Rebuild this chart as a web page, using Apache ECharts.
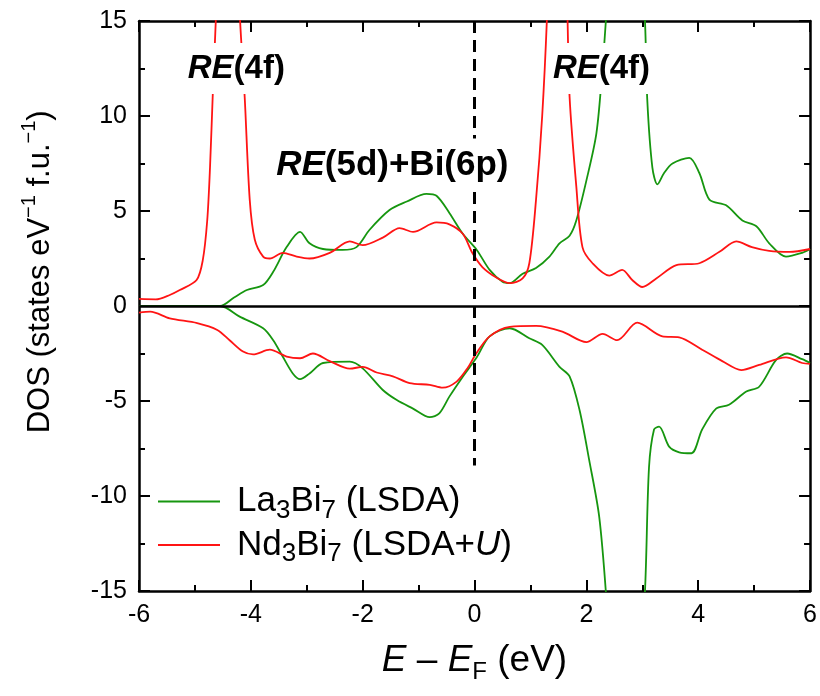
<!DOCTYPE html>
<html><head><meta charset="utf-8">
<script src="https://cdn.jsdelivr.net/npm/echarts@6/dist/echarts.min.js"></script>
<style>html,body{margin:0;padding:0;background:#fff}#c{width:820px;height:696px}</style>
</head><body><div id="c"></div>
<script>
// ---- data ----
const xTickValues = [-6, -4, -2, 0, 2, 4, 6];
const yTickValues = [-15, -10, -5, 0, 5, 10, 15];

// La3Bi7 (LSDA), spin up
const laUpE   = [-6.0,-4.55,-4.3,-4.07,-3.78,-3.6,-3.36,-3.12,-2.95,-2.71,-2.36,-2.11,-1.88,-1.52,-1.21,-0.86,-0.68,-0.45,-0.21,0.04,0.27,0.5,0.63,0.86,1.1,1.34,1.52,1.7,1.82,2.0,2.18,2.29,2.36,2.7,3.04,3.09,3.18,3.27,3.39,3.54,3.84,4.02,4.2,4.5,4.79,5.04,5.27,5.57,5.86,6.0];
const laUpDOS = [0,0,0.45,0.84,1.1,1.8,3.1,3.9,3.3,3.0,2.95,3.1,4.0,5.05,5.5,5.9,5.8,4.9,3.8,2.95,1.9,1.27,1.2,1.7,2.0,2.6,3.3,3.7,4.5,6.6,9.1,12.6,15.5,30,15.5,10.8,7.3,6.4,7.0,7.5,7.8,7.0,5.6,5.3,4.5,4.2,3.3,2.6,2.8,3.0];
// La3Bi7 (LSDA), spin down
const laDnE   = [-6.0,-4.55,-4.2,-3.78,-3.6,-3.43,-3.25,-3.12,-2.95,-2.71,-2.23,-2.0,-1.64,-1.39,-1.1,-0.8,-0.63,-0.45,-0.21,0.04,0.27,0.63,0.98,1.21,1.52,1.7,1.88,2.05,2.23,2.36,2.7,3.04,3.12,3.21,3.3,3.48,3.66,3.88,4.07,4.32,4.55,4.86,5.09,5.39,5.59,5.86,6.0];
const laDnDOS = [0,0,-0.56,-1.17,-1.8,-2.66,-3.55,-3.85,-3.55,-3.0,-2.93,-3.28,-4.42,-4.95,-5.4,-5.85,-5.65,-4.77,-3.72,-2.7,-1.6,-1.17,-1.7,-2.05,-3.2,-3.7,-5.5,-8.1,-11.1,-15.5,-30,-15.5,-8.5,-6.5,-6.35,-7.4,-7.7,-7.75,-6.5,-5.4,-5.2,-4.5,-4.25,-2.85,-2.5,-2.8,-3.0];
// Nd3Bi7 (LSDA+U), spin up
const ndUpE   = [-6.0,-5.7,-5.45,-5.27,-4.97,-4.86,-4.78,-4.73,-4.68,-4.62,-4.4,-4.2,-4.11,-4.02,-3.93,-3.78,-3.66,-3.43,-3.18,-2.95,-2.59,-2.23,-2.0,-1.64,-1.34,-1.1,-0.68,-0.45,-0.21,-0.04,0.14,0.39,0.63,0.86,0.98,1.1,1.21,1.3,1.5,1.66,1.7,1.82,1.93,2.11,2.41,2.64,2.82,3.0,3.25,3.61,4.02,4.38,4.68,4.96,5.27,5.63,6.0];
const ndUpDOS = [0.37,0.35,0.58,0.84,1.37,2.4,4.5,7.3,11.2,15.5,32,15.5,11,5.6,3.5,2.6,2.5,2.8,2.6,2.5,2.8,3.4,3.2,3.6,4.1,3.9,4.4,4.3,3.8,2.8,2.05,1.5,1.2,1.45,2.25,5.6,10,15.5,32,15.5,11,6.3,3.1,2.25,1.6,1.9,1.37,1.0,1.45,2.15,2.25,2.85,3.4,3.1,2.9,2.85,3.0];
// Nd3Bi7 (LSDA+U), spin down
const ndDnE   = [-6.0,-5.8,-5.45,-4.96,-4.6,-4.38,-4.14,-3.96,-3.66,-3.36,-3.12,-2.89,-2.59,-2.23,-2.0,-1.75,-1.46,-1.16,-0.8,-0.57,-0.32,-0.12,0.03,0.27,0.63,1.1,1.57,2.0,2.29,2.55,2.91,3.36,3.66,4.07,4.43,4.77,5.09,5.57,5.86,6.0];
const ndDnDOS = [-0.35,-0.3,-0.65,-0.9,-1.26,-1.8,-2.4,-2.55,-2.3,-2.66,-2.75,-2.5,-2.9,-3.3,-3.2,-3.5,-3.7,-4.06,-4.15,-4.3,-3.98,-3.25,-2.5,-1.6,-1.1,-1.05,-1.35,-1.9,-1.47,-1.8,-0.88,-1.6,-1.65,-2.3,-2.9,-3.37,-3.1,-2.7,-3.0,-3.05];

const seriesNames = ['La3Bi7 (LSDA)', 'Nd3Bi7 (LSDA+U)'];
// annotation anchors in data coordinates
const annotE   = [-4.26, 2.27, -1.47];
const annotDOS = [12.5, 12.5, 7.42];
const annotText = ['{it|RE}{b|(4f)}', '{it|RE}{b|(4f)}', '{it2|RE}{b2|(5d)+Bi(6p)}'];

// ---- chart ----
const FONT = '"Liberation Sans", Arial, Helvetica, sans-serif';
const GREEN = '#16960f';
const RED = '#ff1414';
const pairs = (E, D) => E.map((e, i) => [e, D[i]]);

const chart = echarts.init(document.getElementById('c'), null, {renderer: 'canvas'});

function axisBase(pos, showLabel) {
  return {
    type: 'value', position: pos,
    axisLine: {show: true, onZero: false, lineStyle: {color: '#000', width: 2.5}},
    axisTick: {show: true, inside: true, length: 11, lineStyle: {color: '#000', width: 2}},
    minorTick: {show: true, splitNumber: 2, length: 6, lineStyle: {color: '#000', width: 2}},
    splitLine: {show: false},
    axisLabel: {show: showLabel, fontSize: 25, color: '#000', fontFamily: FONT, margin: 12}
  };
}

const lineSeries = (name, E, D, color) => ({
  type: 'line', name, data: pairs(E, D), showSymbol: false, symbol: 'none',
  smooth: 0.3, clip: true, color: color,
  lineStyle: {color: color, width: 1.8}, emphasis: {disabled: true}
});

const legendText = {
  'La3Bi7 (LSDA)': '{g|}{n|La}{s|3}{n|Bi}{s|7}{n| (LSDA)}',
  'Nd3Bi7 (LSDA+U)': '{g|}{n|Nd}{s|3}{n|Bi}{s|7}{n| (LSDA+}{u|U}{n|)}'
};

const redDown = lineSeries(seriesNames[1], ndDnE, ndDnDOS, RED);
redDown.markLine = {
  silent: true, symbol: 'none', label: {show: false}, animation: false,
  data: [
    [{coord: [-6, 0], lineStyle: {color: '#000', width: 2.5, type: 'solid'}}, {coord: [6, 0]}],
    [{coord: [0, 15], lineStyle: {color: '#000', width: 3, type: [12, 7]}}, {coord: [0, -8.4]}]
  ]
};

const option = {
  animation: false,
  backgroundColor: '#fff',
  grid: {left: 139, right: 9, top: 21, bottom: 105, containLabel: false},
  xAxis: [
    Object.assign(axisBase('bottom', true), {
      min: xTickValues[0], max: xTickValues[xTickValues.length - 1], interval: 2,
      name: '{i|E} – {i|E}{sub|F} {n|(eV)}', nameLocation: 'middle', nameGap: 47,
      nameTextStyle: {
        fontFamily: FONT, fontSize: 37, color: '#000',
        rich: {
          i: {fontFamily: FONT, fontSize: 37, fontStyle: 'italic', color: '#000', lineHeight: 46},
          n: {fontFamily: FONT, fontSize: 37, color: '#000', lineHeight: 46},
          sub: {fontFamily: FONT, fontSize: 24, color: '#000', lineHeight: 24, verticalAlign: 'bottom'}
        }
      }
    }),
    Object.assign(axisBase('top', false), {min: -6, max: 6, interval: 2})
  ],
  yAxis: [
    Object.assign(axisBase('left', true), {min: yTickValues[0], max: yTickValues[yTickValues.length - 1], interval: 5}),
    Object.assign(axisBase('right', false), {min: -15, max: 15, interval: 5})
  ],
  legend: {
    data: seriesNames.map(n => ({name: n, icon: 'rect'})),
    orient: 'vertical', left: 158, top: 484, padding: 0,
    itemWidth: 62, itemHeight: 2, itemGap: 4,
    selectedMode: false,
    formatter: n => legendText[n],
    textStyle: {
      fontFamily: FONT, fontSize: 35, color: '#000',
      rich: {
        g: {width: 12},
        n: {fontFamily: FONT, fontSize: 35, color: '#000', lineHeight: 44},
        u: {fontFamily: FONT, fontSize: 35, fontStyle: 'italic', color: '#000', lineHeight: 44},
        s: {fontFamily: FONT, fontSize: 26, color: '#000', lineHeight: 24, verticalAlign: 'bottom'}
      }
    }
  },
  series: [
    lineSeries(seriesNames[0], laUpE, laUpDOS, GREEN),
    lineSeries(seriesNames[0], laDnE, laDnDOS, GREEN),
    lineSeries(seriesNames[1], ndUpE, ndUpDOS, RED),
    redDown
  ]
};
chart.setOption(option);

// annotations + y-axis title (positioned via the chart's own scales)
const annotRich = {
  it: {fontFamily: FONT, fontSize: 33, fontWeight: 'bold', fontStyle: 'italic', fill: '#000', color: '#000'},
  b:  {fontFamily: FONT, fontSize: 33, fontWeight: 'bold', fill: '#000', color: '#000'},
  it2: {fontFamily: FONT, fontSize: 35, fontWeight: 'bold', fontStyle: 'italic', fill: '#000', color: '#000'},
  b2:  {fontFamily: FONT, fontSize: 35, fontWeight: 'bold', fill: '#000', color: '#000'}
};
const graphics = annotE.map((e, i) => {
  const p = chart.convertToPixel({xAxisIndex: 0, yAxisIndex: 0}, [e, annotDOS[i]]);
  return {
    type: 'text', x: p[0], y: p[1], z: 100,
    style: {
      text: annotText[i], rich: annotRich, align: 'center', verticalAlign: 'middle',
      backgroundColor: '#fff', padding: [9, 3, 9, 3]
    }
  };
});
const yc = chart.convertToPixel({yAxisIndex: 0}, 1.8);
graphics.push({
  type: 'text', x: 40, y: yc, rotation: Math.PI / 2, z: 100,
  style: {
    text: '{n|DOS (states eV}{sup|−1}{n| f.u.}{sup|−1}{n|)}',
    align: 'center', verticalAlign: 'middle',
    rich: {
      n: {fontFamily: FONT, fontSize: 31, fill: '#000', color: '#000', lineHeight: 42},
      sup: {fontFamily: FONT, fontSize: 20, fill: '#000', color: '#000', lineHeight: 20, verticalAlign: 'top'}
    }
  }
});
chart.setOption({graphic: graphics});
</script>
</body></html>
